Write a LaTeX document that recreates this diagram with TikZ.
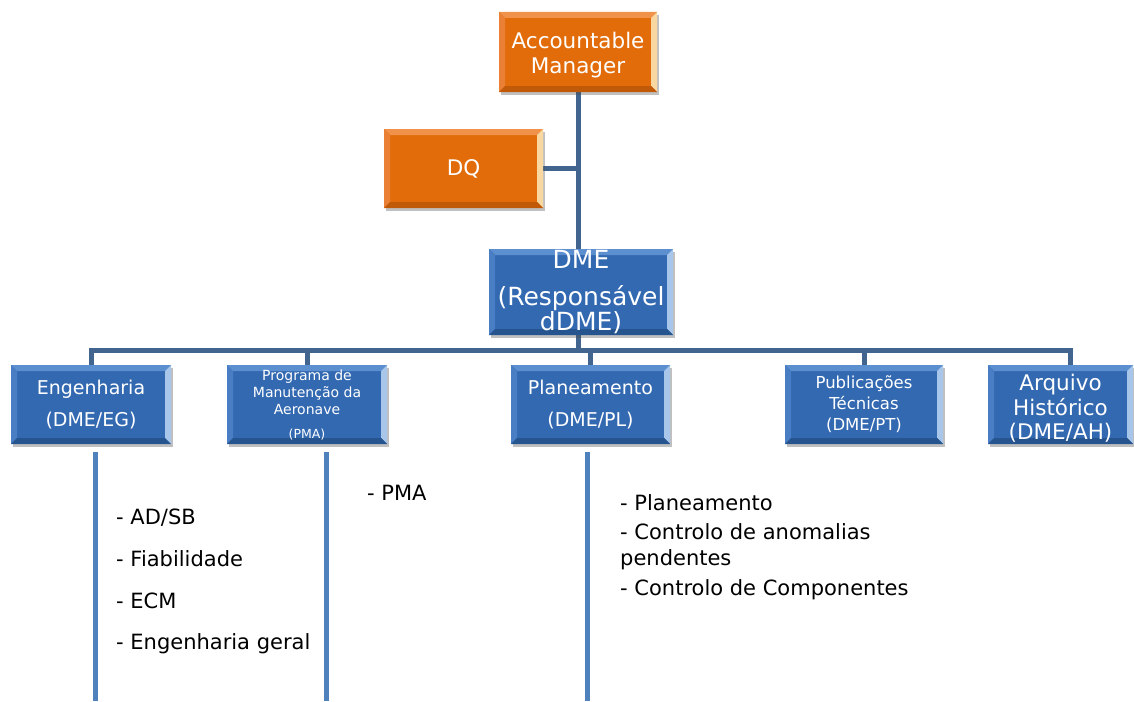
\documentclass[tikz,border=0pt]{standalone}
\usepackage{fontspec}
\setmainfont{DejaVu Sans}
\usetikzlibrary{shadows,backgrounds}
\definecolor{orgmain}{HTML}{E36C0A}
\definecolor{orgtop}{HTML}{F0924A}
\definecolor{orgleft}{HTML}{EA8035}
\definecolor{orgright}{HTML}{F9D7A0}
\definecolor{orgbot}{HTML}{C05A08}
\definecolor{blumain}{HTML}{3369B1}
\definecolor{blutop}{HTML}{5C8FD0}
\definecolor{bluleft}{HTML}{4A7EC4}
\definecolor{bluright}{HTML}{A8C6EA}
\definecolor{blubot}{HTML}{25548E}
\definecolor{connc}{HTML}{41658F}
\definecolor{lowc}{HTML}{4F81BD}
\tikzset{
  bevelbox/.style n args={5}{
    rectangle, fill=#1, text=white, align=center, inner sep=0pt,
    drop shadow={shadow xshift=2pt, shadow yshift=-3pt, opacity=0.35, fill=black!70},
    path picture={
      \coordinate (nw) at (path picture bounding box.north west);
      \coordinate (ne) at (path picture bounding box.north east);
      \coordinate (sw) at (path picture bounding box.south west);
      \coordinate (se) at (path picture bounding box.south east);
      \fill[#2] (nw) -- (ne) -- ([xshift=-6pt,yshift=-6pt]ne) -- ([xshift=6pt,yshift=-6pt]nw) -- cycle;
      \fill[#3] (nw) -- ([xshift=6pt,yshift=-6pt]nw) -- ([xshift=6pt,yshift=6pt]sw) -- (sw) -- cycle;
      \fill[#4] (ne) -- ([xshift=-6pt,yshift=-6pt]ne) -- ([xshift=-6pt,yshift=6pt]se) -- (se) -- cycle;
      \fill[#5] (sw) -- ([xshift=6pt,yshift=6pt]sw) -- ([xshift=-6pt,yshift=6pt]se) -- (se) -- cycle;
    }
  },
  orangebox/.style={bevelbox={orgmain}{orgtop}{orgleft}{orgright}{orgbot}},
  bluebox/.style={bevelbox={blumain}{blutop}{bluleft}{bluright}{blubot}},
  conn/.style={draw=connc, line width=5pt},
  lowline/.style={draw=lowc, line width=5pt},
  listtxt/.style={anchor=west, inner sep=0pt, font=\fontsize{21}{25}\selectfont, text=black},
}
\begin{document}
\begin{tikzpicture}[x=1pt,y=-1pt]
\begin{pgfonlayer}{background}
\fill[white] (0,0) rectangle (1134,701);
\end{pgfonlayer}
\useasboundingbox (0,0) rectangle (1134,701);

% boxes
\node[orangebox, minimum width=158pt, minimum height=80pt,
      font=\fontsize{21.5}{25}\selectfont] (am) at (578,52) {\rule{0pt}{22.5pt}Accountable\\Manager};
\node[orangebox, minimum width=159pt, minimum height=79pt,
      font=\fontsize{21.5}{25}\selectfont] (dq) at (463.5,168.5) {DQ};
\node[bluebox, minimum width=184pt, minimum height=86pt,
      font=\fontsize{25}{23}\selectfont] (dme) at (581,292) {DME\\[14pt](Responsável\\dDME)};
\node[bluebox, minimum width=160pt, minimum height=79pt,
      font=\fontsize{19}{32}\selectfont] (eng) at (91,404.5) {Engenharia\\(DME/EG)};
\node[bluebox, minimum width=160pt, minimum height=79pt,
      font=\fontsize{14}{17}\selectfont] (pma) at (307,404.5) {Programa de\\Manutenção da\\Aeronave\\[7pt]{\fontsize{12.5}{14}\selectfont (PMA)}};
\node[bluebox, minimum width=159pt, minimum height=79pt,
      font=\fontsize{19}{32}\selectfont] (plan) at (590.5,404.5) {Planeamento\\(DME/PL)};
\node[bluebox, minimum width=158pt, minimum height=79pt,
      font=\fontsize{16.5}{21}\selectfont] (pub) at (864,404.5) {Publicações\\Técnicas\\(DME/PT)};
\node[bluebox, minimum width=145pt, minimum height=79pt,
      font=\fontsize{21.5}{24.5}\selectfont] (arq) at (1060.5,404.5) {\rule{0pt}{24.5pt}Arquivo\\Histórico\\(DME/AH)};

% connectors
\coordinate (bus) at (0,350);
\coordinate (arqtop) at ([xshift=9.5pt]arq.north);
\begin{pgfonlayer}{background}
\draw[conn] (am.south) -- (am.south |- dme.north);
\draw[conn] (am.south |- dme.south) -- (am.south |- bus);
\draw[conn] (dq.east) -- (dq.east -| am.south);
\draw[conn] (eng.north) -- (eng.north |- bus) -- (arqtop |- bus) -- (arqtop);
\draw[conn] (pma.north) -- (pma.north |- bus);
\draw[conn] (plan.north) -- (plan.north |- bus);
\draw[conn] (pub.north) -- (pub.north |- bus);
\end{pgfonlayer}

% lower lines
\coordinate (l1a) at (95,452);  \coordinate (l1b) at (95,701);
\coordinate (l2a) at (326,452); \coordinate (l2b) at (326,701);
\coordinate (l3a) at (587,452); \coordinate (l3b) at (587,701);
\draw[lowline] (l1a) -- (l1b);
\draw[lowline] (l2a) -- (l2b);
\draw[lowline] (l3a) -- (l3b);

% lists
\node[listtxt] (e1) at (116,518) {- AD/SB};
\node[listtxt] (e2) at (116,559) {- Fiabilidade};
\node[listtxt] (e3) at (116,601) {- ECM};
\node[listtxt] (e4) at (116,644) {- Engenharia geral};
\node[listtxt] (p1) at (367,493) {- PMA};
\node[listtxt] (q1) at (620,503) {- Planeamento};
\node[listtxt] (q2) at (620,532) {- Controlo de anomalias};
\node[listtxt] (q3) at (620,560) {pendentes};
\node[listtxt] (q4) at (620,590) {- Controlo de Componentes};
\end{tikzpicture}
\end{document}
